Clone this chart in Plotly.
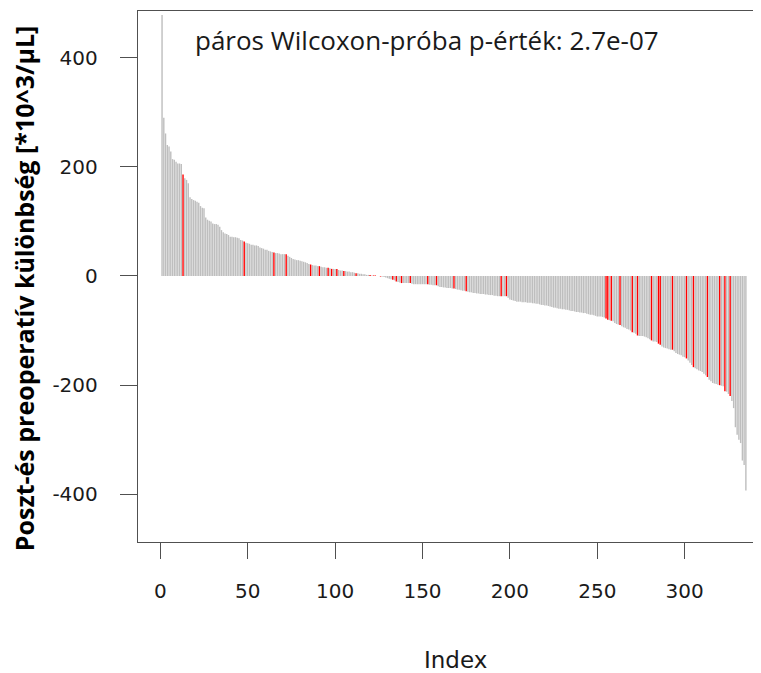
import plotly.graph_objects as go

# Sorted paired differences (post - pre)
values = [
    478, 290, 261, 240, 237, 228, 214, 213, 209, 206,
    206, 205, 186, 179, 176, 170, 144, 141, 139, 138,
    136, 134, 128, 125, 124, 107, 103, 101, 100, 96,
    95, 95, 94, 90, 84, 80, 78, 77, 75, 72,
    72, 71, 71, 70, 69, 66, 65, 63, 61, 60,
    59, 57, 57, 56, 56, 55, 52, 51, 50, 48,
    48, 46, 45, 44, 43, 42, 42, 41, 40, 40,
    40, 40, 37, 35, 33, 31, 30, 29, 29, 28,
    27, 26, 25, 24, 22, 21, 20, 19, 19, 18,
    18, 17, 16, 16, 15, 15, 14, 13, 13, 13,
    13, 11, 10, 10, 9, 9, 8, 8, 7, 7,
    6, 5, 5, 4, 4, 3, 3, 2, 2, 2,
    1, 1, 1, 0, 0, -1, -1, -2, -3, -4,
    -5, -6, -7, -8, -10, -11, -12, -13, -13, -13,
    -13, -13, -13, -14, -15, -15, -15, -15, -15, -15,
    -15, -15, -15, -16, -16, -17, -17, -17, -19, -20,
    -20, -21, -21, -22, -22, -22, -23, -23, -24, -25,
    -25, -26, -27, -27, -28, -29, -30, -30, -31, -31,
    -32, -32, -33, -33, -33, -34, -34, -35, -35, -35,
    -36, -36, -37, -37, -37, -37, -37, -37, -40, -43,
    -44, -45, -46, -47, -47, -47, -48, -48, -48, -49,
    -49, -49, -50, -50, -51, -51, -52, -53, -53, -54,
    -54, -55, -56, -57, -58, -58, -59, -60, -60, -61,
    -61, -62, -62, -63, -64, -64, -65, -66, -66, -67,
    -67, -68, -68, -69, -70, -71, -71, -72, -73, -74,
    -74, -74, -75, -76, -78, -80, -81, -82, -83, -86,
    -88, -89, -90, -92, -94, -95, -97, -98, -100, -103,
    -104, -106, -109, -110, -110, -110, -111, -112, -114, -116,
    -118, -120, -120, -121, -124, -126, -129, -131, -132, -133,
    -134, -135, -135, -138, -141, -143, -144, -145, -148, -149,
    -151, -155, -159, -163, -167, -169, -171, -173, -174, -176,
    -179, -182, -185, -190, -193, -196, -197, -198, -199, -200,
    -201, -202, -211, -212, -216, -220, -229, -242, -277, -291,
    -300, -306, -338, -346, -393,
]

# 1-based indices of the highlighted (red) observations
red_indices = [13, 48, 65, 72, 86, 91, 96, 98, 101, 105, 112, 120, 122, 123,
               126, 133, 135, 138, 143, 153, 158, 168, 175, 195, 198, 255,
               256, 258, 263, 270, 273, 281, 285, 286, 293, 301, 305, 313,
               320, 323, 326]

x_ticks = [0, 50, 100, 150, 200, 250, 300]
y_ticks = [-400, -200, 0, 200, 400]
y_tick_labels = ["-400", "-200", "0", "200", "400"]

y_title = "Poszt-és preoperatív különbség [*10^3/µL]"
x_title = "Index"
note = "páros Wilcoxon-próba p-érték: 2.7e-07"

index = list(range(1, len(values) + 1))
red_set = set(red_indices)


def h_segments(idx_list):
    xs, ys = [], []
    for i in idx_list:
        xs += [i, i, None]
        ys += [0, values[i - 1], None]
    return xs, ys


gray_x, gray_y = h_segments([i for i in index if i not in red_set])
red_x, red_y = h_segments([i for i in index if i in red_set])

fig = go.Figure()
fig.add_trace(go.Scatter(x=gray_x, y=gray_y, mode="lines",
                         line=dict(color="#BEBEBE", width=1.4),
                         showlegend=False, hoverinfo="skip"))
fig.add_trace(go.Scatter(x=red_x, y=red_y, mode="lines",
                         line=dict(color="#FF0000", width=1.4),
                         showlegend=False, hoverinfo="skip"))

axis_color = "#505050"
tick_font = dict(family="DejaVu Sans", size=20, color="#1a1a1a")

fig.update_layout(
    width=753, height=665,
    margin=dict(l=130, r=0, t=3, b=131),
    paper_bgcolor="white", plot_bgcolor="white",
    xaxis=dict(range=[-12.76, 343.65], tickvals=x_ticks, ticks="outside", ticklen=16,
               tickwidth=1.2, tickcolor=axis_color, showline=True, linecolor=axis_color,
               linewidth=1.4, mirror=True, showgrid=False, zeroline=False,
               tickfont=tick_font, ticklabelstandoff=15),
    yaxis=dict(range=[-487.2, 485.3], tickvals=y_ticks, ticktext=y_tick_labels,
               ticks="outside", ticklen=17,
               tickwidth=1.2, tickcolor=axis_color, showline=True, linecolor=axis_color,
               linewidth=1.4, showgrid=False, zeroline=False,
               tickfont=tick_font, ticklabelstandoff=18),
    annotations=[
        dict(text=note, x=0.0883, y=0.945, xref="paper", yref="paper",
             xanchor="left", yanchor="middle", showarrow=False,
             font=dict(family="Open Sans", size=26, color="#1a1a1a")),
        dict(text=x_title, x=0.509, y=-0.222, xref="paper", yref="paper",
             xanchor="center", yanchor="middle", showarrow=False,
             font=dict(family="DejaVu Sans", size=23, color="#1a1a1a")),
        dict(text="<b>" + y_title + "</b>", x=-0.183, y=0.478, xref="paper", yref="paper",
             xanchor="center", yanchor="middle", textangle=-90, showarrow=False,
             font=dict(family="Open Sans", size=25, color="#000000")),
    ],
)

fig.write_html("out.html")
